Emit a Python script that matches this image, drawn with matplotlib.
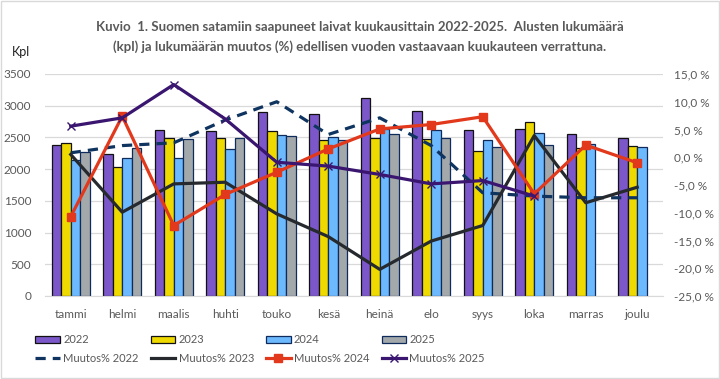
import matplotlib
matplotlib.use("Agg")
import matplotlib.pyplot as plt
from matplotlib.patches import Rectangle
from matplotlib.ticker import FuncFormatter
import numpy as np

months = ["tammi", "helmi", "maalis", "huhti", "touko", "kesä",
          "heinä", "elo", "syys", "loka", "marras", "joulu"]

ships_2022 = [2380, 2240, 2620, 2600, 2900, 2870, 3120, 2915, 2615, 2635, 2555, 2490]
ships_2023 = [2410, 2035, 2485, 2485, 2600, 2460, 2485, 2475, 2285, 2745, 2335, 2365]
ships_2024 = [2150, 2175, 2175, 2320, 2540, 2505, 2640, 2615, 2460, 2570, 2395, 2350]
ships_2025 = [2275, 2335, 2475, 2485, 2520, 2465, 2555, 2485, 2350, 2380, np.nan, np.nan]

change_2022 = [0.8, 2.1, 2.6, 6.7, 10.0, 4.1, 7.1, 2.1, -6.4, -7.0, -7.3, -7.3]
change_2023 = [0.5, -9.9, -4.8, -4.5, -10.2, -14.3, -20.2, -15.1, -12.3, 3.9, -8.2, -5.4]
change_2024 = [-10.7, 7.4, -12.3, -6.7, -2.7, 1.5, 5.1, 5.9, 7.3, -6.6, 2.2, -1.0]
change_2025 = [5.6, 7.1, 13.1, 6.9, -0.9, -1.6, -3.1, -4.8, -4.2, -7.0, np.nan, np.nan]

plt.rcParams['font.family'] = ['Lato', 'DejaVu Sans']
grey_txt = '#595959'

fig = plt.figure(figsize=(7.2, 3.79), dpi=100)
fig.patches.append(Rectangle((0.002, 0.003), 0.996, 0.994, transform=fig.transFigure,
                             facecolor='none', edgecolor='#D9D9D9', lw=1, zorder=-1))

ax = fig.add_axes([45 / 720, 83 / 379, 618 / 720, 222 / 379])
ax2 = ax.twinx()

x = np.arange(len(months))
w = 0.185
bar_specs = [
    (ships_2022, '#7B57C9', '#111111', '2022'),
    (ships_2023, '#EED900', '#111111', '2023'),
    (ships_2024, '#6DB9FE', '#0E2B5C', '2024'),
    (ships_2025, '#A3A8AB', '#0E2B5C', '2025'),
]
bars = []
for i, (vals, col, edge, lab) in enumerate(bar_specs):
    b = ax.bar(x + (i - 1.5) * w, vals, w, color=col, edgecolor=edge, lw=0.9,
               label=lab, zorder=2)
    bars.append(b)

ax.set_ylim(0, 3500)
ax.set_xlim(-0.5, 11.5)
ax.set_yticks(range(0, 3501, 500))
ax.grid(axis='y', color='#D9D9D9', lw=0.9, zorder=0)
ax.set_axisbelow(True)
ax.set_xticks(x)
ax.set_xticklabels(months)
for s in ['top', 'left', 'right']:
    ax.spines[s].set_visible(False)
ax.spines['bottom'].set_color('#D9D9D9')
ax.tick_params(axis='both', length=0, colors=grey_txt, labelsize=8.5)
ax.tick_params(axis='y', pad=10)
ax.tick_params(axis='x', pad=9)

l1, = ax2.plot(x, change_2022, color='#0F3460', lw=2.3, ls=(0, (3.2, 2.2)),
               label='Muutos% 2022', zorder=3)
l2, = ax2.plot(x, change_2023, color='#262A2E', lw=2.3, label='Muutos% 2023', zorder=3)
l3, = ax2.plot(x, change_2024, color='#E2381B', lw=2.3, marker='s', ms=5.5,
               label='Muutos% 2024', zorder=3)
l4, = ax2.plot(x, change_2025, color='#3A1670', lw=2.3, marker='x', ms=6, mew=1,
               label='Muutos% 2025', zorder=3)
ax2.set_ylim(-25, 15)
ax2.set_yticks(range(-25, 16, 5))
ax2.yaxis.set_major_formatter(FuncFormatter(lambda v, p: f"{v:.1f} %".replace('.', ',')))
for s in ax2.spines.values():
    s.set_visible(False)
ax2.tick_params(axis='y', length=0, colors=grey_txt, labelsize=8.5, pad=8)

fig.text(0.5, 1 - 37 / 379, "Kuvio  1. Suomen satamiin saapuneet laivat kuukausittain 2022-2025.  Alusten lukumäärä\n"
         "(kpl) ja lukumäärän muutos (%) edellisen vuoden vastaavaan kuukauteen verrattuna.",
         ha='center', va='center', fontsize=9.5, fontweight='bold', color=grey_txt,
         linespacing=1.6)
fig.text(12 / 720, 1 - 52 / 379, "Kpl", ha='left', va='center', fontsize=9, color='#222222')

handles = [bars[0], l1, bars[1], l2, bars[2], l3, bars[3], l4]
labels = [h.get_label() for h in handles]
fig.legend(handles, labels, ncol=4, loc='upper left', bbox_to_anchor=(31 / 720, 1 - 330 / 379),
           frameon=False, fontsize=8, labelcolor=grey_txt, handlelength=2.2,
           handletextpad=0.3, columnspacing=1.1, labelspacing=0.65, borderaxespad=0)

fig.savefig("out.png", dpi=100)
